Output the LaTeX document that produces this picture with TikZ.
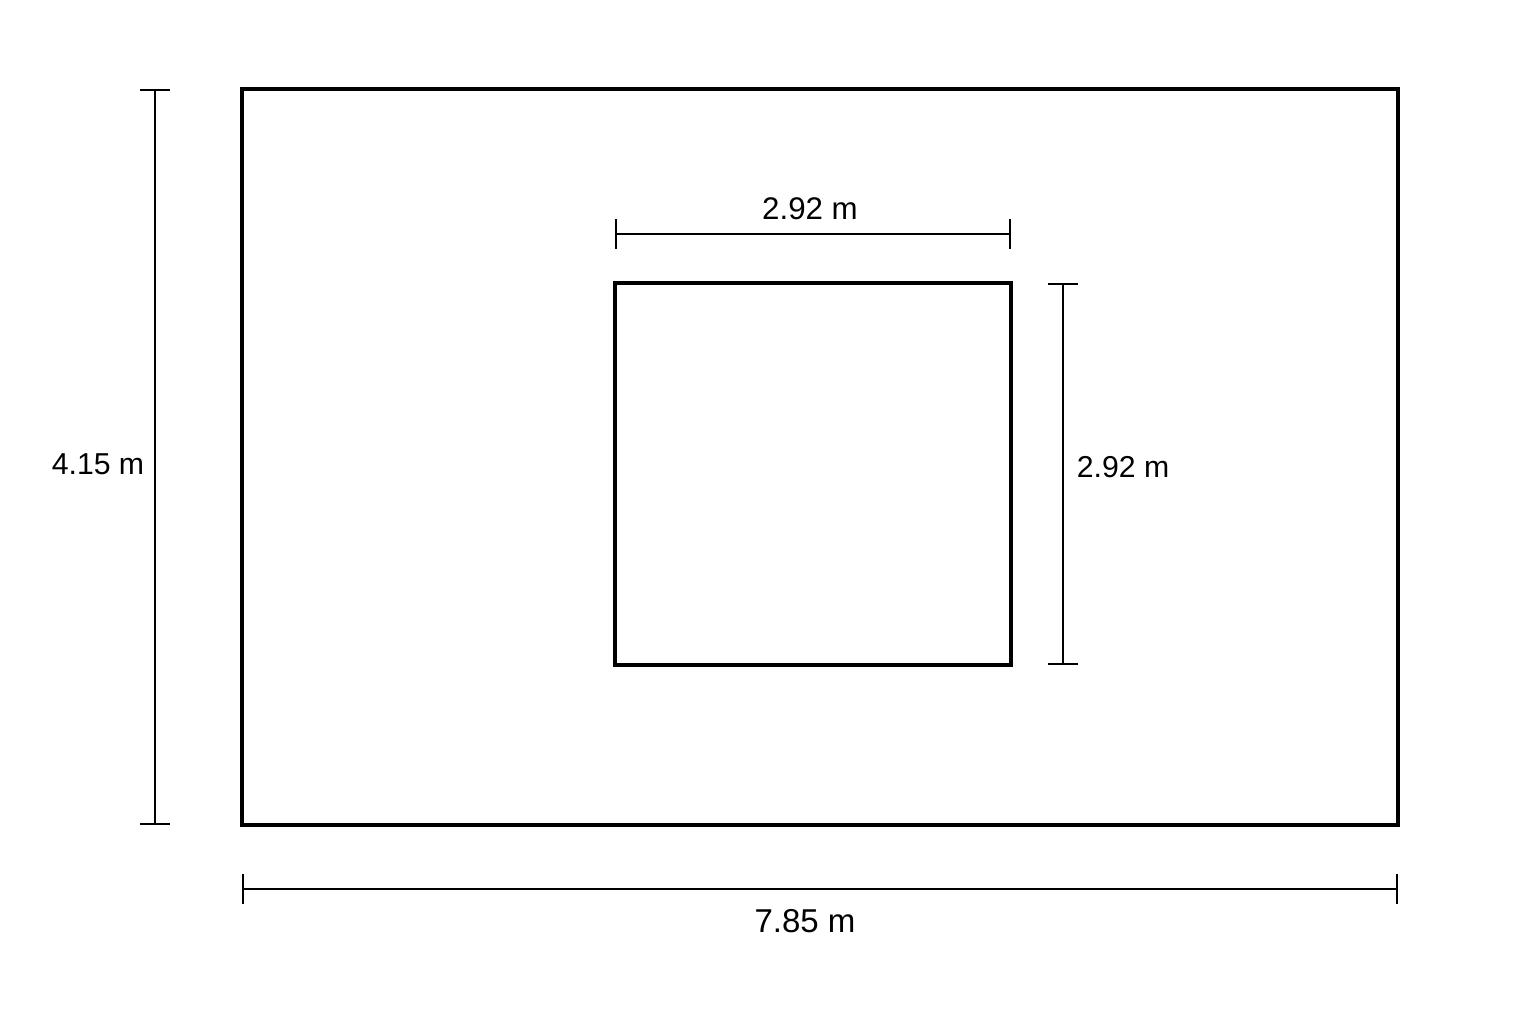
\documentclass[tikz,border=0pt]{standalone}
\usepackage{fontspec}
\setmainfont{Liberation Sans}
\usetikzlibrary{arrows.meta}

\begin{document}
\begin{tikzpicture}[wall/.style={line width=0.9pt},
    dim/.style={line width=0.55pt, {Bar[width=3mm]}-{Bar[width=3mm]}},
    dimtext/.style={font=\fontsize{8.6}{10}\selectfont}]
      \useasboundingbox (0,0) rectangle (15.36,10.24);
      % room and opening
      \coordinate (roomSW) at (2.42,1.99);
      \coordinate (roomNE) at (13.98,9.35);
      \coordinate (holeSW) at (6.15,3.59);
      \coordinate (holeNE) at (10.11,7.41);
      \draw[wall] (roomSW) rectangle (roomNE);
      \draw[wall] (holeSW) rectangle (holeNE);
      % dimension lines
      \coordinate (botL) at (2.42,1.35);
      \coordinate (botR) at (13.98,1.35);
      \coordinate (lftB) at (1.55,1.99);
      \coordinate (lftT) at (1.55,9.35);
      \coordinate (topL) at (6.15,7.90);
      \coordinate (topR) at (10.11,7.90);
      \coordinate (rgtB) at (10.63,3.59);
      \coordinate (rgtT) at (10.63,7.41);
      \draw[dim] (botL) -- (botR);
      \draw[dim] (lftB) -- (lftT);
      \draw[dim] (topL) -- (topR);
      \draw[dim] (rgtB) -- (rgtT);
      \node[dimtext, font=\fontsize{9.4}{11}\selectfont] (roomlen) at (8.05,1.03) {7.85 m};
      \node[dimtext] (roomwid) at (0.98,5.60) {4.15 m};
      \node[dimtext, font=\fontsize{8.9}{10}\selectfont] (holelen) at (8.10,8.15) {2.92 m};
      \node[dimtext] (holewid) at (11.23,5.57) {2.92 m};
    \end{tikzpicture}
\end{document}
